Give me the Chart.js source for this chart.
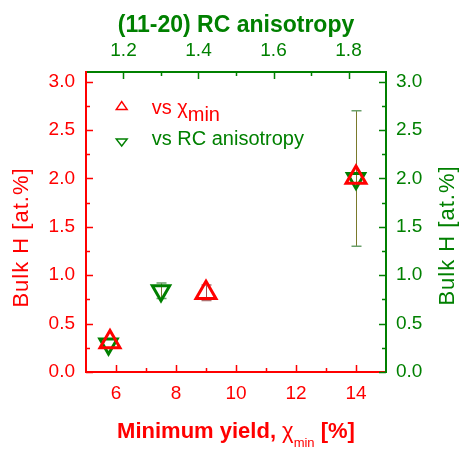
<!DOCTYPE html>
<html>
<head>
<meta charset="utf-8">
<script src="https://cdn.jsdelivr.net/npm/chart.js@4.4.0/dist/chart.umd.min.js"></script>
<style>
  html, body { margin: 0; padding: 0; background: #fff; }
  #wrap { width: 461px; height: 450px; }
</style>
</head>
<body>
<div id="wrap"><canvas id="chart" width="461" height="450"></canvas></div>
<script>
// Bulk H vs minimum yield (red, bottom/left axes)
const chiMin = [5.8, 9.0, 14.0];
const hVsChi = [0.31, 0.82, 2.01];
const hVsChiErr = [0, 0.08, 0];

// Bulk H vs (11-20) RC anisotropy (green, top/right axes)
const anisotropy = [1.16, 1.30, 1.82];
const hVsAniso = [0.29, 0.84, 2.0];
const hVsAnisoErr = [0, 0.08, 0.7];

// tick values
const xTicks = [6, 8, 10, 12, 14];
const xMinorTicks = [7, 9, 11, 13];
const x2Ticks = [1.2, 1.4, 1.6, 1.8];
const x2MinorTicks = [1.3, 1.5, 1.7];
const yTicks = [0, 0.5, 1.0, 1.5, 2.0, 2.5, 3.0];
const yMinorTicks = [0.25, 0.75, 1.25, 1.75, 2.25, 2.75];

const RED = '#ff0000';
const GREEN = '#008000';
const FONT = '"Liberation Sans", Arial, Helvetica, sans-serif';

Chart.defaults.font.family = FONT;

// draws inward tick marks on a scale
function drawTickMarks(ctx, scale, values, len, color) {
    ctx.save();
    ctx.strokeStyle = color;
    ctx.lineWidth = 1.5;
    ctx.beginPath();
    values.forEach(v => {
        const p = Math.round(scale.getPixelForValue(v)) + 0.5;
        if (scale.position === 'bottom') { ctx.moveTo(p, scale.top); ctx.lineTo(p, scale.top - len); }
        if (scale.position === 'top') { ctx.moveTo(p, scale.bottom); ctx.lineTo(p, scale.bottom + len); }
        if (scale.position === 'left') { ctx.moveTo(scale.right, p); ctx.lineTo(scale.right + len, p); }
        if (scale.position === 'right') { ctx.moveTo(scale.left, p); ctx.lineTo(scale.left - len, p); }
    });
    ctx.stroke();
    ctx.restore();
}

function drawErrorBars(ctx, xs, ys, xVals, yVals, errs, color, capColor) {
    ctx.save();
    ctx.lineWidth = 1;
    errs.forEach((e, i) => {
        if (!e) return;
        const px = Math.round(xs.getPixelForValue(xVals[i])) + 0.5;
        const top = ys.getPixelForValue(yVals[i] + e);
        const bot = ys.getPixelForValue(yVals[i] - e);
        ctx.strokeStyle = color;
        ctx.beginPath();
        ctx.moveTo(px, top); ctx.lineTo(px, bot);
        ctx.stroke();
        ctx.strokeStyle = capColor;
        ctx.lineWidth = 1.5;
        ctx.beginPath();
        ctx.moveTo(px - 5, top); ctx.lineTo(px + 5, top);
        ctx.moveTo(px - 5, bot); ctx.lineTo(px + 5, bot);
        ctx.stroke();
        ctx.lineWidth = 1;
    });
    ctx.restore();
}

function smallTriangle(ctx, x, y, w, h, down, color) {
    ctx.save();
    ctx.strokeStyle = color;
    ctx.lineWidth = 1.4;
    ctx.beginPath();
    if (down) {
        ctx.moveTo(x - w / 2, y - h / 2); ctx.lineTo(x + w / 2, y - h / 2); ctx.lineTo(x, y + h / 2);
    } else {
        ctx.moveTo(x - w / 2, y + h / 2); ctx.lineTo(x + w / 2, y + h / 2); ctx.lineTo(x, y - h / 2);
    }
    ctx.closePath();
    ctx.stroke();
    ctx.restore();
}

// draws a run of text pieces [text, font, dy] starting at x
function drawPieces(ctx, pieces, x, y, color) {
    ctx.save();
    ctx.fillStyle = color;
    ctx.textAlign = 'left';
    ctx.textBaseline = 'alphabetic';
    pieces.forEach(p => {
        ctx.font = p[1];
        ctx.fillText(p[0], x, y + (p[2] || 0));
        x += ctx.measureText(p[0]).width;
    });
    ctx.restore();
}

function piecesWidth(ctx, pieces) {
    let w = 0;
    ctx.save();
    pieces.forEach(p => { ctx.font = p[1]; w += ctx.measureText(p[0]).width; });
    ctx.restore();
    return w;
}

const extras = {
    id: 'extras',
    beforeDatasetsDraw(chart) {
        const ctx = chart.ctx;
        const s = chart.scales;
        drawErrorBars(ctx, s.x, s.y, chiMin, hVsChi, hVsChiErr, '#a05050', '#b07070');
        drawErrorBars(ctx, s.x2, s.y2, anisotropy, hVsAniso, hVsAnisoErr, '#7a7a2c', '#6a9f6a');
    },
    afterDraw(chart) {
        const ctx = chart.ctx;
        const s = chart.scales;
        const area = chart.chartArea;

        // tick marks
        drawTickMarks(ctx, s.x, xTicks, 7, RED);
        drawTickMarks(ctx, s.x, xMinorTicks, 4, RED);
        drawTickMarks(ctx, s.y, yTicks, 7, RED);
        drawTickMarks(ctx, s.y, yMinorTicks, 4, RED);
        drawTickMarks(ctx, s.x2, x2Ticks, 7, GREEN);
        drawTickMarks(ctx, s.x2, x2MinorTicks, 4, GREEN);
        drawTickMarks(ctx, s.y2, yTicks, 7, GREEN);
        drawTickMarks(ctx, s.y2, yMinorTicks, 4, GREEN);

        const cx = (area.left + area.right) / 2;

        // top title
        ctx.save();
        ctx.fillStyle = GREEN;
        ctx.font = 'bold 23px ' + FONT;
        ctx.textAlign = 'center';
        ctx.textBaseline = 'alphabetic';
        ctx.fillText('(11-20) RC anisotropy', cx, 31.5);
        ctx.restore();

        // left and right titles
        [[27.5, 237.5, RED], [453.5, 235.5, GREEN]].forEach(t => {
            ctx.save();
            ctx.translate(t[0], t[1]);
            ctx.rotate(-Math.PI / 2);
            ctx.fillStyle = t[2];
            ctx.font = '22px ' + FONT;
            ctx.letterSpacing = '1px';
            ctx.textAlign = 'center';
            ctx.textBaseline = 'alphabetic';
            ctx.fillText('Bulk H [at.%]', 0, 0);
            ctx.restore();
        });

        // bottom title with subscript
        const bottom = [
            ['Minimum yield, ', 'bold 22px ' + FONT, 0],
            ['\u03c7', '22px ' + FONT, 0],
            ['min', '13px ' + FONT, 9],
            [' [%]', 'bold 22px ' + FONT, 0]
        ];
        const bw = piecesWidth(ctx, bottom);
        drawPieces(ctx, bottom, cx - bw / 2, 437.5, RED);

        // legend
        smallTriangle(ctx, 121.7, 105.5, 11, 8, false, RED);
        drawPieces(ctx, [
            ['vs ', '20px ' + FONT, 0],
            ['\u03c7', '20px ' + FONT, 0],
            ['min', '20px ' + FONT, 7]
        ], 151.7, 113.5, RED);
        smallTriangle(ctx, 121.7, 142.5, 11, 7, true, GREEN);
        drawPieces(ctx, [['vs RC anisotropy', '20px ' + FONT, 0]], 151.7, 145, GREEN);
    }
};

const tickFont = { family: FONT, size: 19 };

new Chart(document.getElementById('chart'), {
    type: 'scatter',
    data: {
        datasets: [
            {
                label: 'vs \u03c7min',
                data: chiMin.map((x, i) => ({ x: x, y: hVsChi[i] })),
                xAxisID: 'x',
                yAxisID: 'y',
                pointStyle: 'triangle',
                pointRadius: 11.5,
                pointBorderWidth: 3,
                borderColor: RED,
                backgroundColor: 'rgba(0,0,0,0)'
            },
            {
                label: 'vs RC anisotropy',
                data: anisotropy.map((x, i) => ({ x: x, y: hVsAniso[i] })),
                xAxisID: 'x2',
                yAxisID: 'y2',
                pointStyle: 'triangle',
                pointRotation: 180,
                pointRadius: 10,
                pointBorderWidth: 3,
                borderColor: GREEN,
                backgroundColor: 'rgba(0,0,0,0)'
            }
        ]
    },
    options: {
        responsive: false,
        animation: false,
        events: [],
        layout: { padding: 0 },
        plugins: {
            legend: { display: false },
            tooltip: { enabled: false }
        },
        scales: {
            x: {
                type: 'linear', position: 'bottom', min: 5, max: 15,
                afterBuildTicks: sc => { sc.ticks = xTicks.map(v => ({ value: v })); },
                afterFit: sc => { sc.height = 78; },
                ticks: { color: RED, font: tickFont, padding: 10, maxRotation: 0, callback: v => String(v) },
                grid: { display: false, drawTicks: false },
                border: { display: true, color: RED, width: 2 }
            },
            x2: {
                type: 'linear', position: 'top', min: 1.1, max: 1.9,
                afterBuildTicks: sc => { sc.ticks = x2Ticks.map(v => ({ value: v })); },
                afterFit: sc => { sc.height = 72; },
                ticks: { color: GREEN, font: tickFont, padding: 10, maxRotation: 0, callback: v => v.toFixed(1) },
                grid: { display: false, drawTicks: false },
                border: { display: true, color: GREEN, width: 2 }
            },
            y: {
                type: 'linear', position: 'left', min: 0, max: 3.1,
                afterBuildTicks: sc => { sc.ticks = yTicks.map(v => ({ value: v })); },
                afterFit: sc => { sc.width = 86; },
                ticks: { color: RED, font: tickFont, padding: 11, callback: v => v.toFixed(1) },
                grid: { display: false, drawTicks: false },
                border: { display: true, color: RED, width: 2 }
            },
            y2: {
                type: 'linear', position: 'right', min: 0, max: 3.1,
                afterBuildTicks: sc => { sc.ticks = yTicks.map(v => ({ value: v })); },
                afterFit: sc => { sc.width = 75; },
                ticks: { color: GREEN, font: tickFont, padding: 10, callback: v => v.toFixed(1) },
                grid: { display: false, drawTicks: false },
                border: { display: true, color: GREEN, width: 2 }
            }
        }
    },
    plugins: [extras]
});
</script>
</body>
</html>
